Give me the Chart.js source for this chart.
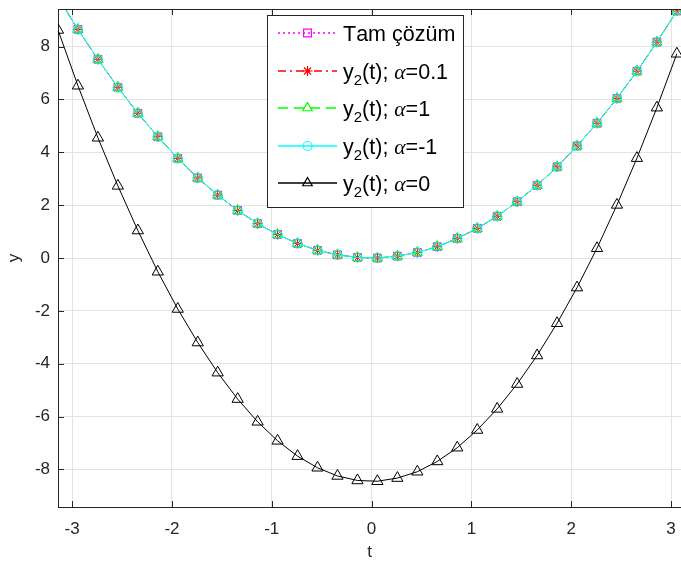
<!DOCTYPE html>
<html>
<head>
<meta charset="utf-8">
<script src="https://cdn.jsdelivr.net/npm/chart.js@4/dist/chart.umd.min.js"></script>
<style>
  html, body { margin: 0; padding: 0; background: #fff; }
  canvas { display: block; }
</style>
</head>
<body>
<canvas id="chart" width="681" height="567"></canvas>
<script>
// sample points, t = -pi : 0.2 : pi
const tValues = [
  -3.1416, -2.9416, -2.7416, -2.5416, -2.3416, -2.1416, -1.9416, -1.7416,
  -1.5416, -1.3416, -1.1416, -0.9416, -0.7416, -0.5416, -0.3416, -0.1416,
  0.0584, 0.2584, 0.4584, 0.6584, 0.8584, 1.0584, 1.2584, 1.4584,
  1.6584, 1.8584, 2.0584, 2.2584, 2.4584, 2.6584, 2.8584, 3.0584
];

// upper curve (exact solution)
const exactValues = [
  9.87, 8.65, 7.52, 6.46, 5.48, 4.59, 3.77, 3.03,
  2.38, 1.80, 1.30, 0.89, 0.55, 0.29, 0.12, 0.02,
  0.00, 0.07, 0.21, 0.43, 0.74, 1.12, 1.58, 2.13,
  2.75, 3.45, 4.24, 5.10, 6.04, 7.07, 8.17, 9.35
];
// alpha = 0.1, 1, -1 sit on top of the exact curve in the picture
const alpha01Values = exactValues;
const alpha1Values = exactValues;
const alphaMinus1Values = exactValues;

// alpha = 0, the lower curve
const alpha0Values = [
  8.63, 6.52, 4.55, 2.73, 1.04, -0.52, -1.93, -3.20,
  -4.34, -5.34, -6.20, -6.92, -7.50, -7.94, -8.25, -8.42,
  -8.45, -8.33, -8.09, -7.70, -7.18, -6.51, -5.71, -4.77,
  -3.69, -2.47, -1.12, 0.37, 2.01, 3.78, 5.69, 7.73
];

const seriesNames = ['Tam çözüm', 'y₂(t); α=0.1', 'y₂(t); α=1', 'y₂(t); α=-1', 'y₂(t); α=0'];
const xTicks = [-3, -2, -1, 0, 1, 2, 3];
const yTicks = [-8, -6, -4, -2, 0, 2, 4, 6, 8];

const FONT = '"Liberation Sans", Arial, sans-serif';
const AXIS = '#262626';

const styles = [
  { color: '#ff00ff', dash: [2, 3], marker: 'rect', r: 5.5 },
  { color: '#ff0000', dash: [8, 4, 2, 4], marker: 'star', r: 5 },
  { color: '#00ff00', dash: [10, 6], marker: 'triangle', r: 6 },
  { color: '#00ffff', dash: [], marker: 'circle', r: 4.5 },
  { color: '#000000', dash: [], marker: 'triangle', r: 6.5 }
];
const allValues = [exactValues, alpha01Values, alpha1Values, alphaMinus1Values, alpha0Values];

const datasets = seriesNames.map((name, k) => ({
  label: name,
  data: tValues.map((t, i) => ({ x: t, y: allValues[k][i] })),
  borderColor: styles[k].color,
  borderWidth: 1,
  borderDash: styles[k].dash,
  pointStyle: styles[k].marker,
  pointRadius: styles[k].r,
  pointBorderColor: styles[k].color,
  pointBackgroundColor: 'rgba(0,0,0,0)',
  pointBorderWidth: 1,
  fill: false,
  tension: 0,
  order: 5 - k
}));

function drawMarker(ctx, style, x, y, r) {
  ctx.beginPath();
  if (style === 'rect') {
    const s = r * Math.SQRT1_2;
    ctx.rect(x - s, y - s, 2 * s, 2 * s);
  } else if (style === 'star') {
    for (let a = 0; a < 4; a++) {
      const ang = a * Math.PI / 4;
      ctx.moveTo(x - Math.cos(ang) * r, y - Math.sin(ang) * r);
      ctx.lineTo(x + Math.cos(ang) * r, y + Math.sin(ang) * r);
    }
  } else if (style === 'triangle') {
    for (let a = 0; a < 3; a++) {
      const ang = a * 2 * Math.PI / 3;
      const px = x + Math.sin(ang) * r, py = y - Math.cos(ang) * r;
      if (a === 0) ctx.moveTo(px, py); else ctx.lineTo(px, py);
    }
    ctx.closePath();
  } else {
    ctx.arc(x, y, r, 0, Math.PI * 2);
  }
  ctx.stroke();
}

// writes a label, turning ₂ into a subscript and α into the greek glyph
function drawRich(ctx, text, x, y, size) {
  let cx = x;
  for (const ch of text) {
    let font = size + 'px ' + FONT, dy = 0, out = ch;
    if (ch === '₂') { font = Math.round(size * 0.7) + 'px ' + FONT; dy = size * 0.3; out = '2'; }
    if (ch === 'α') { font = 'italic ' + size + 'px "Liberation Serif", serif'; }
    ctx.font = font;
    ctx.fillText(out, cx, y + dy);
    cx += ctx.measureText(out).width;
  }
}

const frameAndLegend = {
  id: 'frameAndLegend',
  afterDraw(chart) {
    const ctx = chart.ctx;
    const a = chart.chartArea;
    const xs = chart.scales.x, ys = chart.scales.y;
    ctx.save();
    ctx.strokeStyle = AXIS;
    ctx.lineWidth = 1;
    ctx.setLineDash([]);
    ctx.beginPath();
    ctx.moveTo(a.left, a.top + 0.5);
    ctx.lineTo(a.right, a.top + 0.5);
    xTicks.forEach(v => {
      const px = Math.round(xs.getPixelForValue(v)) + 0.5;
      ctx.moveTo(px, a.bottom); ctx.lineTo(px, a.bottom - 6);
      ctx.moveTo(px, a.top); ctx.lineTo(px, a.top + 6);
    });
    yTicks.forEach(v => {
      const py = Math.round(ys.getPixelForValue(v)) + 0.5;
      ctx.moveTo(a.left, py); ctx.lineTo(a.left + 6, py);
    });
    ctx.stroke();

    // legend box
    const bx = 267.5, by = 15.5, bw = 196, bh = 192;
    ctx.fillStyle = '#ffffff';
    ctx.fillRect(bx, by, bw, bh);
    ctx.strokeStyle = AXIS;
    ctx.strokeRect(bx, by, bw, bh);

    seriesNames.forEach((name, k) => {
      const st = styles[k];
      const ly = Math.round(33 + k * 37.5);
      ctx.strokeStyle = st.color;
      ctx.lineWidth = 1.6;
      ctx.setLineDash(st.dash);
      ctx.beginPath();
      ctx.moveTo(278, ly); ctx.lineTo(337, ly);
      ctx.stroke();
      ctx.setLineDash([]);
      ctx.lineWidth = 1.2;
      drawMarker(ctx, st.marker, 307.5, ly, Math.min(st.r, 5.5));
      ctx.fillStyle = '#000000';
      ctx.textBaseline = 'alphabetic';
      ctx.textAlign = 'left';
      drawRich(ctx, name, 343, ly + 8, 21.5);
    });
    ctx.restore();
  }
};

new Chart(document.getElementById('chart'), {
  type: 'line',
  data: { datasets },
  options: {
    responsive: false,
    animation: false,
    layout: { autoPadding: false, padding: { top: 9, right: 0, left: 0, bottom: 0 } },
    plugins: {
      legend: { display: false },
      tooltip: { enabled: false }
    },
    scales: {
      x: {
        type: 'linear',
        min: -3.1416,
        max: 3.10,
        afterBuildTicks: s => { s.ticks = xTicks.map(v => ({ value: v })); },
        afterFit: s => { s.height = 60; s.paddingLeft = 0; s.paddingRight = 0; },
        grid: { color: '#e3e3e3', drawTicks: false, tickLength: 0 },
        border: { display: true, color: AXIS, width: 1 },
        ticks: {
          font: { family: FONT, size: 17 },
          color: AXIS,
          padding: 12,
          maxRotation: 0,
          autoSkip: false,
          callback: v => String(v)
        },
        title: {
          display: true,
          text: 't',
          font: { family: FONT, size: 17 },
          color: AXIS,
          padding: { top: 0, bottom: 4 }
        }
      },
      y: {
        type: 'linear',
        min: -9.4248,
        max: 9.4248,
        afterBuildTicks: s => { s.ticks = yTicks.map(v => ({ value: v })); },
        afterFit: s => { s.width = 58; s.paddingTop = 0; s.paddingBottom = 0; },
        grid: { color: '#e3e3e3', drawTicks: false, tickLength: 0 },
        border: { display: true, color: AXIS, width: 1 },
        ticks: {
          font: { family: FONT, size: 17 },
          color: AXIS,
          padding: 8,
          autoSkip: false,
          callback: v => String(v)
        },
        title: {
          display: true,
          text: 'y',
          font: { family: FONT, size: 17 },
          color: AXIS,
          padding: { top: 4, bottom: 0 }
        }
      }
    }
  },
  plugins: [frameAndLegend]
});
</script>
</body>
</html>
